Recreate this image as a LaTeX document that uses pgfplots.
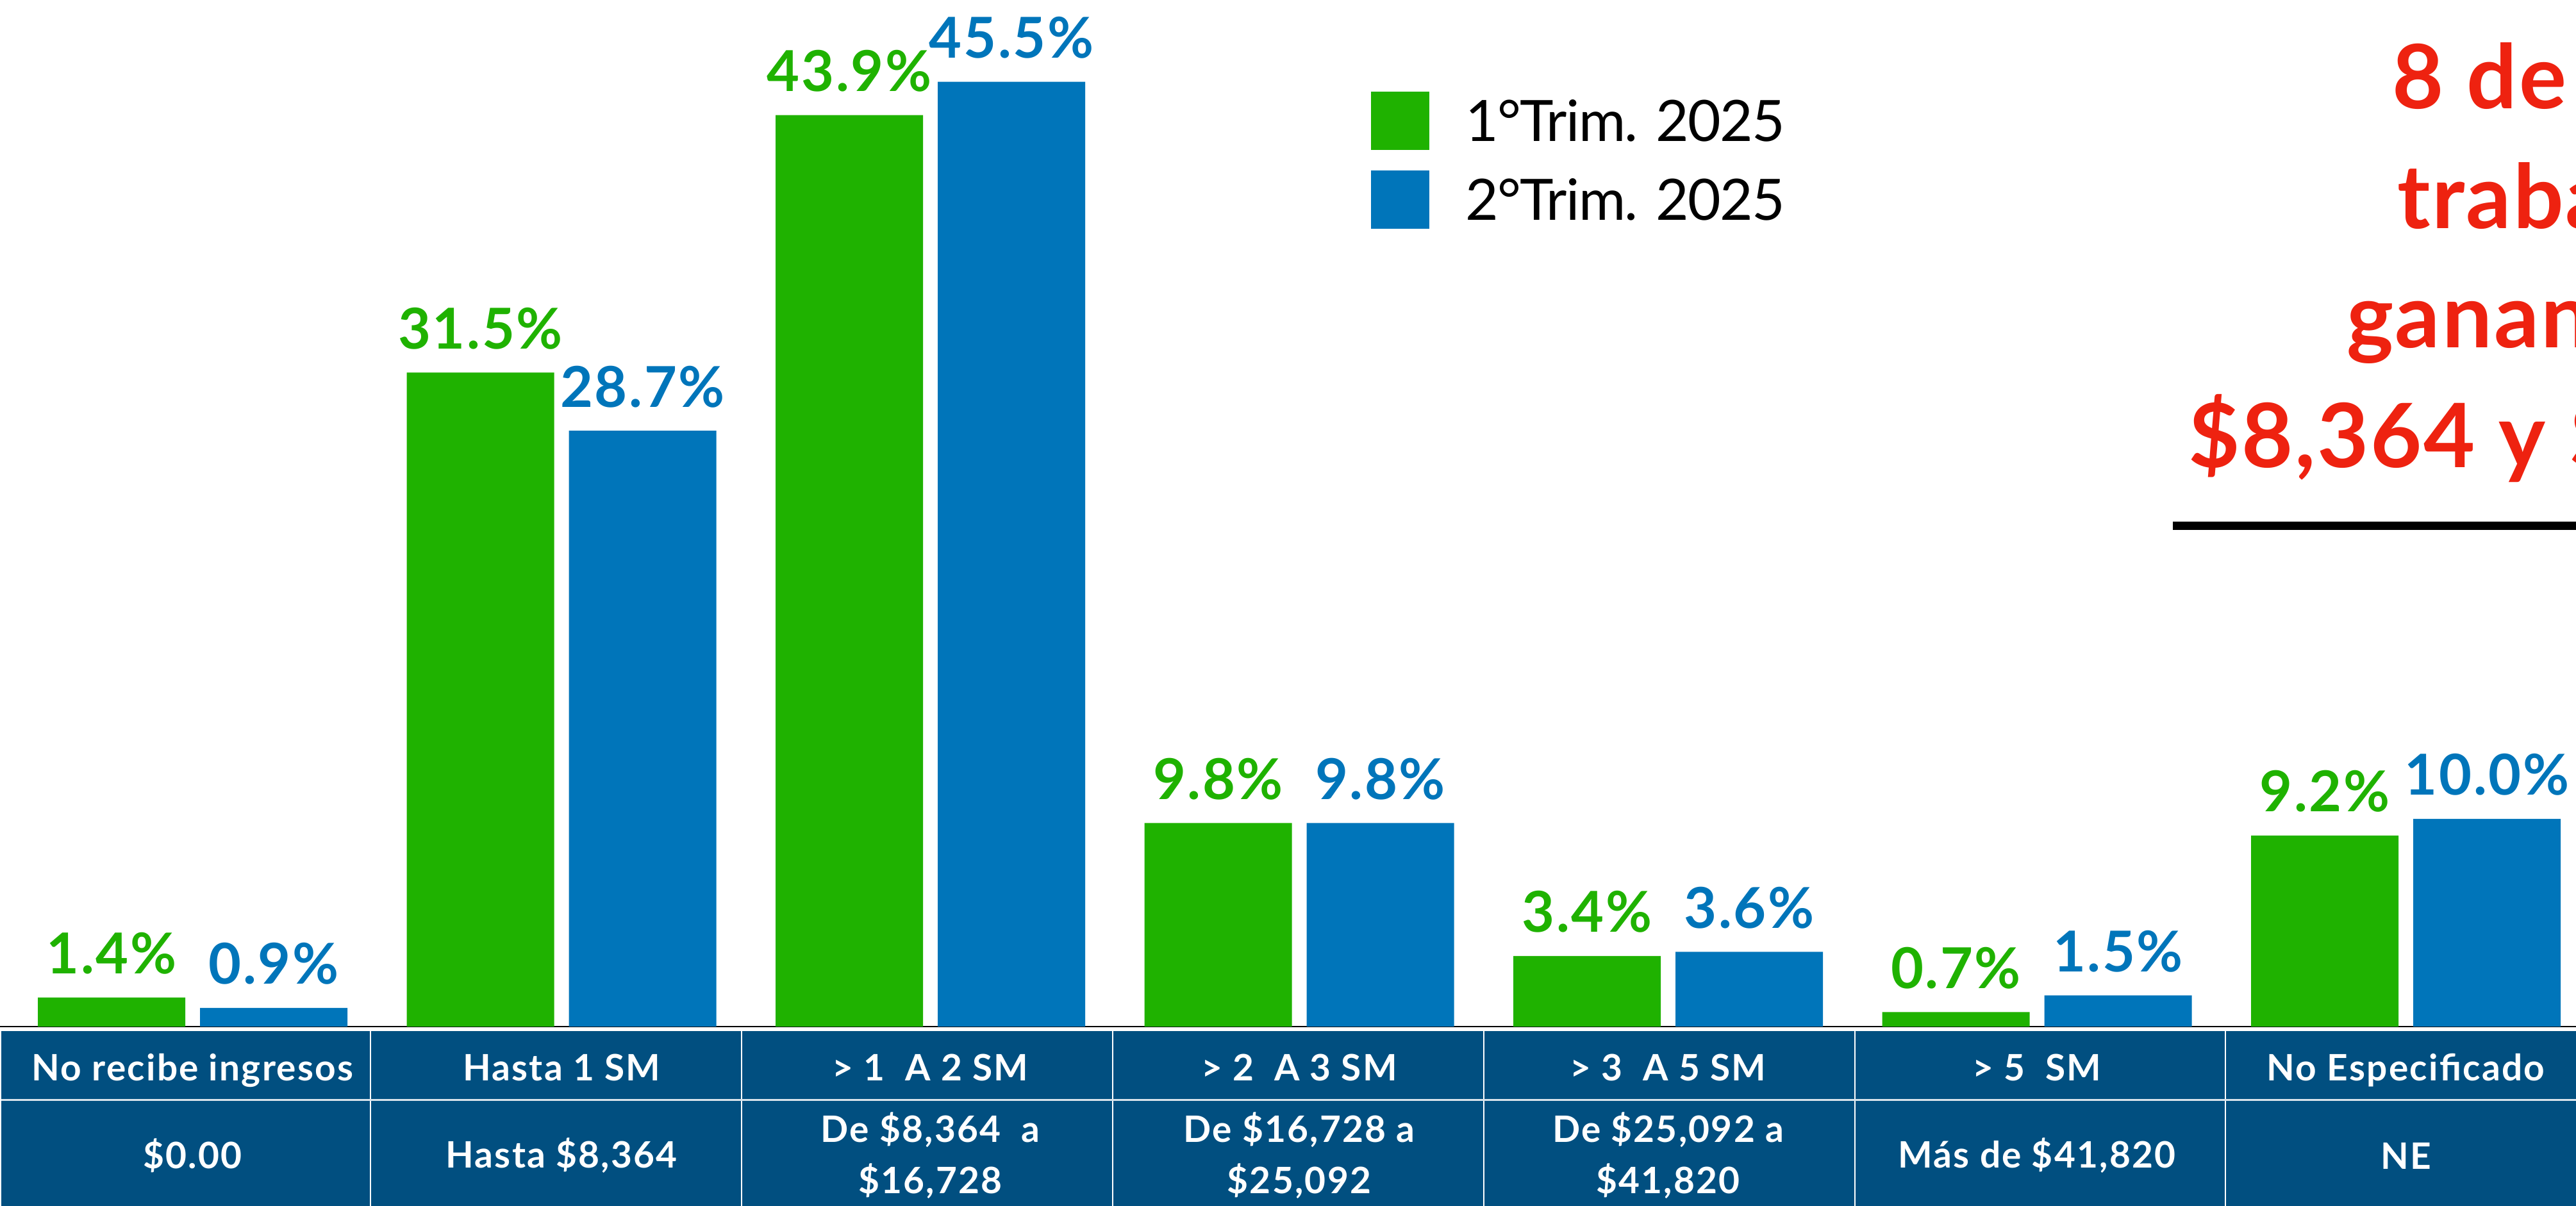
\documentclass[border=0pt]{standalone}
\usepackage{pgfplots}
\pgfplotsset{compat=1.18}
\usepackage{fontspec}
\setmainfont{Lato}
\newfontfamily\tabfont[LetterSpace=4]{Lato}
\newfontfamily\labfont[LetterSpace=3]{Lato}
\newfontfamily\legfont[LetterSpace=-2]{Lato}
\newfontfamily\redfont[LetterSpace=2]{Lato}
\definecolor{cgreen}{RGB}{31,178,0}
\definecolor{cblue}{RGB}{0,117,186}
\definecolor{cnavy}{RGB}{1,79,128}
\definecolor{cred}{RGB}{238,34,16}
\pgfplotsset{sq legend/.style={legend image code/.code={\path[##1] (0bp,-4.55bp) rectangle (9.1bp,4.55bp);}}}

\begin{document}
\begin{tikzpicture}
\path[use as bounding box] (0,0) rectangle (401.9bp,188.2bp);
\clip (0,0) rectangle (401.9bp,188.2bp);

% tabla de abajo
\fill[cnavy] (0.2bp,-1bp) rectangle (403bp,27.3bp);
\foreach \xx in {57.8,115.7,173.6,231.5,289.4,347.2}
  \draw[white, line width=0.25bp] (\xx bp,-1bp) -- (\xx bp,27.3bp);
\draw[white!85!cnavy, line width=0.3bp] (0.2bp,16.55bp) -- (403bp,16.55bp);

% texto rojo (cortado a la derecha)
\begin{scope}[every node/.style={anchor=base west, inner sep=0pt, text=cred, font=\fontsize{13.86bp}{16bp}\redfont\bfseries}]
\node at (373.0bp,171.2bp) {8 de cada 10};
\node at (373.8bp,152.5bp) {trabajadores};
\node at (365.9bp,133.9bp) {ganan entre};
\node at (341.2bp,115.2bp) {\$8,364 y \$16,728};
\end{scope}
\fill[black] (339.0bp,105.5bp) rectangle (403bp,106.8bp);

\begin{axis}[
    at={(0bp,28bp)}, anchor=south west,
    scale only axis, width=401.9bp, height=160.2bp,
    xmin=-0.5222, xmax=6.4614, ymin=0, ymax=49.444,
    axis x line*=bottom, axis y line=none,
    x axis line style={black, line width=0.3bp},
    ybar, bar width=23bp,
    xtick={0,...,6}, xtick style={draw=none},
    xticklabels={{No recibe ingresos},{Hasta 1 SM},{> 1~~A 2 SM},{> 2~~A 3 SM},{> 3~~A 5 SM},{> 5~~SM},{No Especificado}},
    xticklabel style={anchor=north, yshift=0.2bp, inner sep=0pt, text height=4.2bp, text depth=0pt,
        text=white, font=\fontsize{5.68bp}{7bp}\tabfont\bfseries},
    ytick=\empty,
    clip=false,
    /pgf/number format/assume math mode=true,
    nodes near coords={\pgfmathprintnumber[fixed, fixed zerofill, precision=1]{\pgfplotspointmeta}\%},
    every node near coord/.append style={anchor=base, yshift=3.7bp, inner sep=0pt, font=\fontsize{8.8bp}{10bp}\labfont\bfseries},
    legend style={at={(0.5322,0.9107)}, anchor=north west, draw=none, fill=none,
        inner sep=0pt, outer sep=0pt, row sep=3.2bp, column sep=5.7bp,
        font=\fontsize{8.9bp}{11bp}\legfont, nodes={inner sep=0pt, text depth=0pt}},
    legend cell align=left,
]
% 1er trimestre
\addplot[fill=cgreen, draw=none, bar shift=-12.65bp, nodes near coords style={text=cgreen}, sq legend]
    coordinates {(0,1.4) (1,31.5) (2,43.9) (3,9.8) (4,3.4) (5,0.7) (6,9.2)};
% 2do trimestre
\addplot[fill=cblue, draw=none, bar shift=12.65bp, nodes near coords style={text=cblue}, sq legend]
    coordinates {(0,0.9) (1,28.7) (2,45.5) (3,9.8) (4,3.6) (5,1.5) (6,10.0)};
\legend{1°Trim. 2025, 2°Trim. 2025}

% segunda fila de la tabla
\begin{scope}[every node/.style={anchor=center, align=center, inner sep=0pt, text=white, yshift=-20.15bp, font=\fontsize{5.68bp}{8bp}\tabfont\bfseries}]
\node at (axis cs:0,0) {\$0.00};
\node at (axis cs:1,0) {Hasta \$8,364};
\node at (axis cs:2,0) {De \$8,364~~a\\\$16,728};
\node at (axis cs:3,0) {De \$16,728 a\\\$25,092};
\node at (axis cs:4,0) {De \$25,092 a\\\$41,820};
\node at (axis cs:5,0) {Más de \$41,820};
\node at (axis cs:6,0) {NE};
\end{scope}
\end{axis}
\end{tikzpicture}
\end{document}
